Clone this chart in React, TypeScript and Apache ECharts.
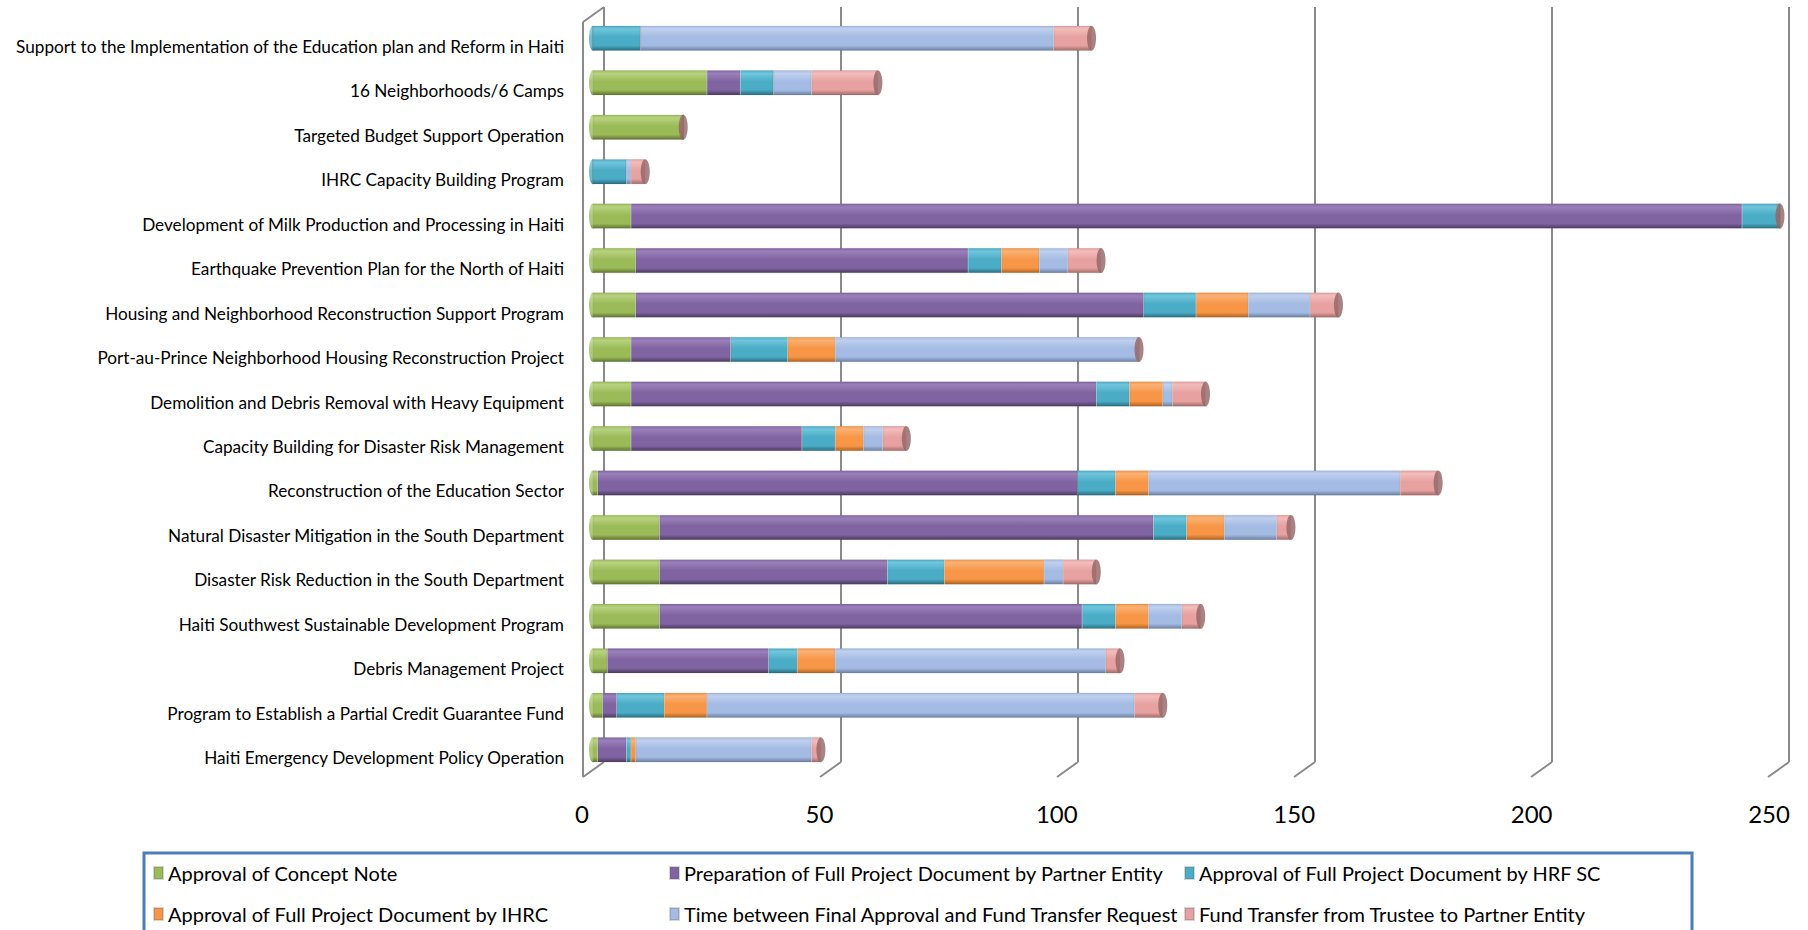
import React, { useEffect, useRef } from "react";
import * as echarts from "echarts";

const categories = [
  "Support to the Implementation of the Education plan and Reform in Haiti",
  "16 Neighborhoods/6 Camps",
  "Targeted Budget Support Operation",
  "IHRC Capacity Building Program",
  "Development of Milk Production and Processing in Haiti",
  "Earthquake Prevention Plan for the North of Haiti",
  "Housing and Neighborhood Reconstruction Support Program",
  "Port-au-Prince Neighborhood Housing Reconstruction Project",
  "Demolition and Debris Removal with Heavy Equipment",
  "Capacity Building for Disaster Risk Management",
  "Reconstruction of the Education Sector",
  "Natural Disaster Mitigation in the South Department",
  "Disaster Risk Reduction in the South Department",
  "Haiti Southwest Sustainable Development Program",
  "Debris Management Project",
  "Program to Establish a Partial Credit Guarantee Fund",
  "Haiti Emergency Development Policy Operation",
];

const seriesNames = [
  "Approval of Concept Note",
  "Preparation of Full Project Document by Partner Entity",
  "Approval of Full Project Document by HRF SC",
  "Approval of Full Project Document by IHRC",
  "Time between Final Approval and Fund Transfer Request",
  "Fund Transfer from Trustee to Partner Entity",
];

const conceptNote = [0, 24, 19, 0, 8, 9, 9, 8, 8, 8, 1, 14, 14, 14, 3, 2, 1];
const preparation = [0, 7, 0, 0, 234, 70, 107, 21, 98, 36, 101, 104, 48, 89, 34, 3, 6];
const approvalHrfSc = [10, 7, 0, 7, 8, 7, 11, 12, 7, 7, 8, 7, 12, 7, 6, 10, 1];
const approvalIhrc = [0, 0, 0, 0, 0, 8, 11, 10, 7, 6, 7, 8, 21, 7, 8, 9, 1];
const timeBetween = [87, 8, 0, 1, 0, 6, 13, 64, 2, 4, 53, 11, 4, 7, 57, 90, 37];
const fundTransfer = [8, 14, 0, 3, 0, 7, 6, 0, 7, 5, 8, 3, 7, 4, 3, 6, 2];

const xTicks = [0, 50, 100, 150, 200, 250];

// [light, mid, dark]
const tones: string[][] = [
  ["#B8D27F", "#9BBB59", "#5F7430"],
  ["#9A80BA", "#8064A2", "#4A3A60"],
  ["#70C6DC", "#4BACC6", "#286C80"],
  ["#FAB175", "#F79646", "#B0621E"],
  ["#C0D0EE", "#A4BBE3", "#6A7FA3"],
  ["#F2BDBC", "#E6A1A0", "#A46B6A"],
];

function cyl(t: string[]) {
  return new echarts.graphic.LinearGradient(0, 0, 0, 1, [
    { offset: 0, color: t[1] },
    { offset: 0.12, color: t[0] },
    { offset: 0.45, color: t[1] },
    { offset: 0.8, color: t[1] },
    { offset: 1, color: t[2] },
  ]);
}

export default function App() {
  const ref = useRef<HTMLDivElement>(null);
  useEffect(() => {
    if (!ref.current) return;
    const chart = echarts.init(ref.current, undefined, { renderer: "svg" });
    const data = [conceptNote, preparation, approvalHrfSc, approvalIhrc, timeBetween, fundTransfer];
    const totals = categories.map((_, i) => data.reduce((s, arr) => s + arr[i], 0));
    const firstIdx = categories.map((_, i) => {
      const k = data.findIndex((arr) => arr[i] > 0);
      return k < 0 ? 0 : k;
    });
    const font = "Lato";
    const barSeries = data.map((arr, k) => ({
      name: seriesNames[k],
      type: "bar",
      stack: "total",
      xAxisIndex: 0,
      yAxisIndex: 0,
      barWidth: 25,
      data: arr,
      itemStyle: { color: cyl(tones[k]), borderColor: "rgba(90,90,90,0.25)", borderWidth: 0.5 },
      z: 3,
    }));
    const legendCol = (names: string[], left: number) => ({
      orient: "vertical",
      left,
      top: 861,
      padding: 0,
      itemGap: 17,
      itemWidth: 9,
      itemHeight: 12,
      icon: "rect",
      selectedMode: false,
      textStyle: { fontFamily: font, fontSize: 20, color: "#000", lineHeight: 24 },
      data: names.map((n) => ({ name: n, itemStyle: { color: tones[seriesNames.indexOf(n)][1] } })),
    });
    const option: any = {
      animation: false,
      backgroundColor: "#fff",
      grid: [
        { left: 593, top: 16, width: 1187, height: 756 },
        { left: 604, top: 7, width: 1185, height: 755 },
      ],
      xAxis: [
        {
          type: "value",
          gridIndex: 0,
          min: 0,
          max: 250,
          interval: 50,
          axisLine: { show: false },
          axisTick: { show: false },
          splitLine: { show: false },
          axisLabel: {
            fontFamily: font,
            fontSize: 24,
            color: "#000",
            margin: 29,
            padding: [0, 22, 0, 0],
          },
        },
        {
          type: "value",
          gridIndex: 1,
          min: 0,
          max: 250,
          interval: 50,
          axisLine: { show: false },
          axisTick: { show: false },
          axisLabel: { show: false },
          splitLine: { show: true, lineStyle: { color: "#8a8a8a", width: 2 } },
        },
      ],
      yAxis: [
        {
          type: "category",
          gridIndex: 0,
          data: categories,
          inverse: true,
          axisLine: { show: false },
          axisTick: { show: false },
          axisLabel: {
            fontFamily: font,
            fontSize: 17.2,
            color: "#000",
            margin: 29,
            verticalAlign: "top",
            lineHeight: 16,
          },
        },
        { type: "value", gridIndex: 1, show: false },
      ],
      legend: [
        legendCol([seriesNames[0], seriesNames[3]], 153),
        legendCol([seriesNames[1], seriesNames[4]], 669),
        legendCol([seriesNames[2], seriesNames[5]], 1184),
      ],
      series: [
        ...barSeries,
        {
          type: "scatter",
          name: "startCap",
          xAxisIndex: 0,
          yAxisIndex: 0,
          symbol: "circle",
          symbolSize: [8, 25],
          z: 2,
          silent: true,
          data: categories.map((c, i) => ({
            value: [0, c],
            itemStyle: { color: cyl(tones[firstIdx[i]]) },
          })),
        },
        {
          type: "scatter",
          name: "endCap",
          xAxisIndex: 0,
          yAxisIndex: 0,
          symbol: "circle",
          symbolSize: [9, 25],
          z: 4,
          silent: true,
          itemStyle: { color: "#946464" },
          data: categories.map((c, i) => [totals[i], c]),
        },
      ],
    };
    chart.setOption(option);
    const backX = xTicks.map((v) => chart.convertToPixel({ xAxisIndex: 1 }, v) as number);
    const topY = 7;
    const botY = 762;
    const dx = 21;
    const dy = 15;
    const lineStyle = { stroke: "#8a8a8a", lineWidth: 2 };
    const graphics: any[] = [
      { type: "line", shape: { x1: backX[0] - dx, y1: topY + dy, x2: backX[0] - dx, y2: botY + dy }, style: lineStyle, z: 1 },
      { type: "line", shape: { x1: backX[0] - dx, y1: topY + dy, x2: backX[0], y2: topY }, style: lineStyle, z: 1 },
      ...backX.map((x) => ({
        type: "line",
        shape: { x1: x, y1: botY, x2: x - dx, y2: botY + dy },
        style: lineStyle,
        z: 1,
      })),
      {
        type: "rect",
        shape: { x: 144, y: 853, width: 1548, height: 100 },
        style: { fill: "none", stroke: "#4A7EBB", lineWidth: 3 },
        z: 0,
      },
    ];
    chart.setOption({ graphic: graphics });
    return () => chart.dispose();
  }, []);
  return <div ref={ref} style={{ position: "absolute", left: 0, top: 0, width: 1808, height: 930 }} />;
}
